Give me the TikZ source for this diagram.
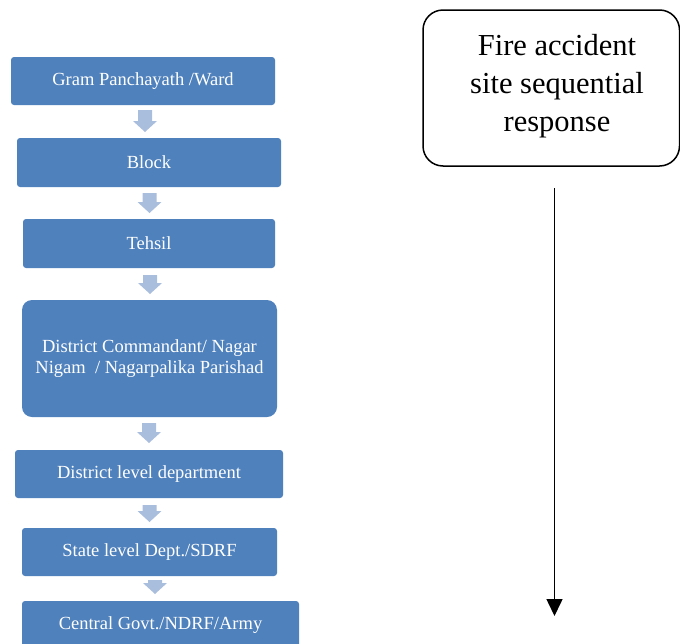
\documentclass[tikz,border=0pt]{standalone}
\usepackage{fontspec}
\setmainfont{Liberation Serif}
\usetikzlibrary{arrows.meta}
\definecolor{boxblue}{HTML}{4F81BD}
\definecolor{arrblue}{HTML}{A9BDDC}
\newcommand{\blockarr}[4]{%
  \coordinate (#1) at (#2,#3);
  \fill[arrblue] (#2-7,#3) -- (#2+7,#3) -- (#2+7,#4-11) -- (#2+12,#4-11)
    -- (#2,#4) -- (#2-12,#4-11) -- (#2-7,#4-11) -- cycle;}
\begin{document}
\begin{tikzpicture}[x=1pt,y=-1pt,
  level/.style={rectangle, fill=boxblue, text=white, rounded corners=3pt,
    inner sep=0pt, align=center,
    font=\fontsize{18.5}{21.5}\selectfont},
  firebox/.style={rectangle, draw=black, line width=1.5pt, rounded corners=20pt,
    align=center, inner sep=0pt}]
\useasboundingbox (0,0) rectangle (680,643);
\node[level, minimum width=264pt, minimum height=48pt] (b1) at (143,81) {Gram Panchayath /Ward};
\node[level, minimum width=264pt, minimum height=49pt] (b2) at (149,162.5) {Block};
\node[level, minimum width=252pt, minimum height=49pt] (b3) at (149,243.5) {Tehsil};
\node[level, minimum width=255pt, minimum height=117pt, rounded corners=10pt] (b4) at (149.5,358.5) {District Commandant/ Nagar\\Nigam~ / Nagarpalika Parishad};
\node[level, minimum width=268pt, minimum height=48pt] (b5) at (149,474) {District level department};
\node[level, minimum width=255pt, minimum height=48pt] (b6) at (149.5,552) {State level Dept./SDRF};
\node[level, minimum width=277pt, minimum height=48pt] (b7) at (160.5,625) {Central Govt./NDRF/Army};

\blockarr{a1}{145}{110}{132}
\blockarr{a2}{149.5}{193}{213}
\blockarr{a3}{150}{275}{294}
\blockarr{a4}{149}{423}{443}
\blockarr{a5}{149.5}{505}{522}
\blockarr{a6}{155}{580}{594}

\node[firebox, minimum width=256.5pt, minimum height=156pt] (fire) at (551.25,88) {};
\node[align=center, inner sep=0pt, font=\fontsize{30.5}{38}\selectfont] (firetext) at (557,86) {Fire accident\\site sequential\\response};
\coordinate (s) at (554.5,188);
\coordinate (e) at (554.5,616);
\draw[line width=1.5pt, -{Triangle[width=16pt,length=17pt]}] (s) -- (e);
\end{tikzpicture}
\end{document}
